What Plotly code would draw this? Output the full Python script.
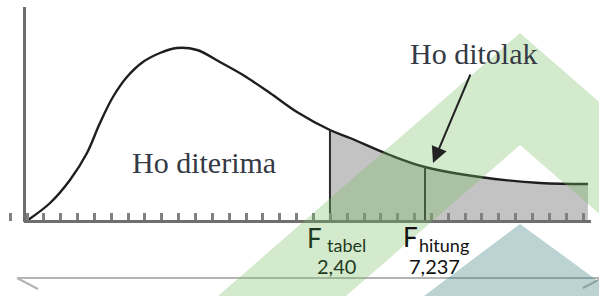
import plotly.graph_objects as go

# ---------------- data (schematic F-distribution) ----------------
# x in axis-tick units (origin = 0), y in height units above the axis
curve_x = [0.06, 1.37, 2.55, 3.56, 4.33, 5.10, 5.93, 6.88, 7.89, 8.90, 10.09,
           11.45, 12.82, 14.42, 16.02, 17.98, 19.17, 21.54, 23.62, 26.88, 30.45, 33.29]
curve_y = [1, 18, 41, 68, 98, 124, 144, 159, 168, 173, 171,
           159, 146, 128, 109, 91, 83, 66, 54, 44, 38, 37]

tabel_idx = 15      # curve point where F tabel sits
hitung_idx = 18     # curve point where F hitung sits
f_tabel_label = "2,40"
f_hitung_label = "7,237"
region_labels = ["Ho diterima", "Ho ditolak"]

# ---------------- layout constants ----------------
W, H = 599, 296
X0, TICK, AXIS_Y = 27.0, 16.85, 221.0


def dx(px):
    return (px - X0) / TICK


def dy(py):
    return AXIS_Y - py


def pp(px, py):
    return px / W, 1 - py / H


fig = go.Figure()

# shaded rejection region
fig.add_trace(go.Scatter(
    x=curve_x[tabel_idx:], y=curve_y[tabel_idx:], mode="lines",
    line=dict(width=0, shape="spline", smoothing=1.0),
    fill="tozeroy", fillcolor="#c3c3c3", hoverinfo="skip", showlegend=False))

# density curve
fig.add_trace(go.Scatter(
    x=curve_x, y=curve_y, mode="lines",
    line=dict(color="#1e1e1e", width=2.4, shape="spline", smoothing=1.0),
    hoverinfo="skip", showlegend=False))

# vertical lines at F tabel and F hitung
for idx in (tabel_idx, hitung_idx):
    fig.add_trace(go.Scatter(
        x=[curve_x[idx], curve_x[idx]], y=[0, curve_y[idx]], mode="lines",
        line=dict(color="#2a2a2a", width=2), hoverinfo="skip", showlegend=False))

shapes = []
# axes lines
shapes.append(dict(type="line", xref="x", yref="y", x0=dx(24), x1=dx(591),
                   y0=dy(221.5), y1=dy(221.5), line=dict(color="#6e6e6e", width=3)))
shapes.append(dict(type="line", xref="x", yref="y", x0=dx(24.5), x1=dx(24.5),
                   y0=dy(222), y1=dy(7), line=dict(color="#6e6e6e", width=3)))


# bottom bracket line
def pline(a, b, color="#b4b4b4", width=2):
    x0, y0 = pp(*a)
    x1, y1 = pp(*b)
    return dict(type="line", xref="paper", yref="paper", x0=x0, y0=y0, x1=x1, y1=y1,
                line=dict(color=color, width=width))


shapes.append(pline((17, 278), (600, 278)))
shapes.append(pline((17, 278), (38, 289)))
shapes.append(pline((600, 279), (583, 288)))


# watermark (semi-transparent overlay)
def ppath(points):
    s = ""
    for i, (a, b) in enumerate(points):
        x, y = pp(a, b)
        s += ("M" if i == 0 else "L") + f"{x:.5f},{y:.5f} "
    return s + "Z"


shapes.append(dict(type="path", xref="paper", yref="paper", layer="above",
                   path=ppath([(520, 33), (822, 296), (694, 296), (520, 145), (346, 296), (218, 296)]),
                   fillcolor="rgb(120,190,100)", opacity=0.32, line=dict(width=0)))
shapes.append(dict(type="path", xref="paper", yref="paper", layer="above",
                   path=ppath([(520, 224), (620, 297), (420, 299)]),
                   fillcolor="rgb(60,130,125)", opacity=0.35, line=dict(width=0)))

annotations = []
serif = "Liberation Serif, Times New Roman, serif"
sans = "Lato, Open Sans, sans-serif"

annotations.append(dict(x=dx(203.5), y=dy(162), xref="x", yref="y", text=region_labels[0],
                        showarrow=False, font=dict(family=serif, size=30, color="#343a45"),
                        xanchor="center", yanchor="middle"))
annotations.append(dict(x=dx(474), y=dy(53), xref="x", yref="y", text=region_labels[1],
                        showarrow=False, font=dict(family=serif, size=30, color="#343a45"),
                        xanchor="center", yanchor="middle"))
# arrow
annotations.append(dict(x=dx(433), y=dy(163), ax=dx(471), ay=dy(73), xref="x", yref="y",
                        axref="x", ayref="y", text="", showarrow=True, arrowhead=2,
                        arrowsize=1.6, arrowwidth=2, arrowcolor="#222222"))

# F labels
tabel_col = "#1f3a22"
annotations.append(dict(x=dx(305), y=dy(237.5), xref="x", yref="y", text="F", showarrow=False,
                        font=dict(family=sans, size=26, color=tabel_col), xanchor="left", yanchor="middle"))
annotations.append(dict(x=dx(325), y=dy(245), xref="x", yref="y", text="tabel", showarrow=False,
                        font=dict(family=sans, size=18, color=tabel_col), xanchor="left", yanchor="middle"))
annotations.append(dict(x=dx(336), y=dy(265.5), xref="x", yref="y", text=f_tabel_label, showarrow=False,
                        font=dict(family=sans, size=20, color=tabel_col), xanchor="center", yanchor="middle"))
annotations.append(dict(x=dx(401), y=dy(237), xref="x", yref="y", text="F", showarrow=False,
                        font=dict(family=sans, size=26, color="#111111"), xanchor="left", yanchor="middle"))
annotations.append(dict(x=dx(417), y=dy(245), xref="x", yref="y", text="hitung", showarrow=False,
                        font=dict(family=sans, size=18, color="#111111"), xanchor="left", yanchor="middle"))
annotations.append(dict(x=dx(434), y=dy(265.5), xref="x", yref="y", text=f_hitung_label, showarrow=False,
                        font=dict(family=sans, size=20, color="#111111"), xanchor="center", yanchor="middle"))

fig.update_layout(
    width=W, height=H, margin=dict(l=0, r=0, t=0, b=0),
    paper_bgcolor="white", plot_bgcolor="white",
    shapes=shapes, annotations=annotations, showlegend=False,
    xaxis=dict(range=[dx(0), dx(W)], showgrid=False, zeroline=False, showline=False,
               showticklabels=False, ticks="inside", ticklen=8, tickwidth=2.5,
               tickcolor="#808080", tick0=0, dtick=1,
               anchor="free", position=(H - AXIS_Y) / H),
    yaxis=dict(range=[dy(H), dy(0)], showgrid=False, zeroline=False, showline=False,
               showticklabels=False, ticks=""),
)

fig.write_html("out.html", config={"displayModeBar": False},
               post_script="document.body.style.margin='0px';")
